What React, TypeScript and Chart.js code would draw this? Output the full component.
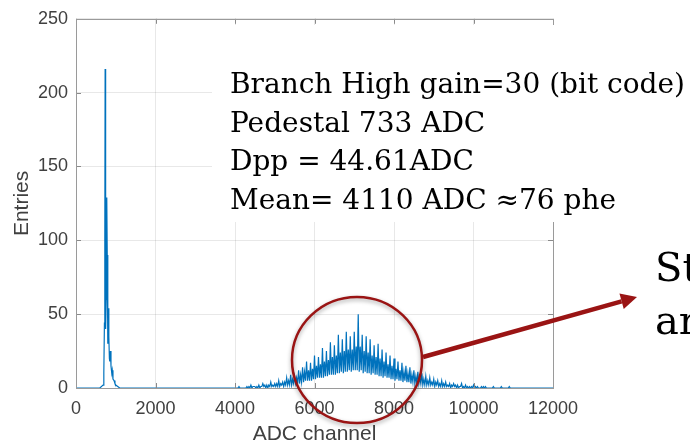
import React, { useEffect, useRef } from "react";
import { Chart, registerables } from "chart.js";

Chart.register(...registerables);

// Pedestal region (ADC channel, entries)
const pedestalX = [0, 600, 680, 700, 715, 725, 733, 741, 750, 760, 770, 778, 786, 795, 805, 815, 822, 830, 840, 850, 867, 880, 900, 912, 930, 957, 980, 1000, 1050, 1100, 3950];
const pedestalY = [0, 0, 2, 10, 44, 100, 216, 120, 40, 60, 100, 129, 90, 35, 30, 45, 54, 35, 20, 18, 25, 15, 10, 12, 6, 5, 3, 2, 1, 0, 0];

// Signal region, every 100 ADC from 4000: comb teeth (+0), lows (+25), mids (+50), lows (+75)
const signalStart = 4000;
const teethY = [0, 1, 0, 1, 2, 1, 2, 3, 2, 4, 3, 5, 4, 7, 9, 8, 12, 14, 18, 17, 22, 21, 27, 25, 31, 29, 36, 33, 38, 35, 38, 50, 36, 35, 33, 29, 30, 26, 24, 22, 20, 18, 17, 15, 14, 12, 11, 10, 8, 7, 6, 5, 5, 4, 3, 3, 2, 3, 2, 1, 2, 1, 1, 1, 0, 1, 0, 1, 0, 1, 0];
const lowAY = [0, 0, 0, 0, 0, 0, 0, 1, 0, 1, 1, 1, 1, 2, 2, 3, 3, 4, 5, 5, 6, 7, 7, 8, 9, 9, 10, 10, 11, 11, 12, 11, 10, 10, 9, 9, 8, 7, 7, 6, 5, 5, 4, 4, 3, 3, 3, 2, 2, 2, 1, 1, 1, 1, 0, 1, 0, 0, 0, 0, 0, 0, 0, 0, 0, 0, 0, 0, 0, 0];
const midY = [0, 0, 0, 1, 1, 1, 1, 2, 2, 2, 3, 3, 4, 5, 6, 7, 9, 11, 12, 13, 15, 16, 18, 19, 21, 22, 24, 25, 26, 26, 28, 28, 25, 24, 22, 21, 20, 18, 16, 15, 13, 12, 11, 10, 9, 8, 7, 6, 5, 4, 4, 3, 3, 2, 2, 2, 1, 1, 1, 1, 1, 0, 1, 0, 0, 0, 0, 0, 0, 0];
const lowBY = [0, 0, 0, 0, 1, 0, 1, 0, 1, 1, 1, 2, 2, 2, 3, 3, 4, 5, 5, 6, 7, 7, 8, 9, 9, 10, 11, 11, 12, 12, 12, 12, 11, 10, 10, 9, 8, 8, 7, 6, 6, 5, 5, 4, 4, 3, 3, 2, 2, 2, 2, 1, 1, 1, 1, 0, 1, 0, 0, 0, 0, 0, 0, 0, 0, 0, 0, 0, 0, 0];
const tailX = [11100, 12000];
const tailY = [0, 0];

const infoLines = [
  "Branch High gain=30 (bit code)",
  "Pedestal 733 ADC",
  "Dpp = 44.61ADC",
  "Mean= 4110 ADC \u224876 phe",
];
const sideLines = ["St", "ar"];

function buildPoints() {
  const pts: { x: number; y: number }[] = [];
  pedestalX.forEach((x, i) => pts.push({ x, y: pedestalY[i] }));
  teethY.forEach((y, i) => {
    const x = signalStart + i * 100;
    pts.push({ x, y });
    if (i < midY.length) {
      pts.push({ x: x + 25, y: lowAY[i] });
      pts.push({ x: x + 50, y: midY[i] });
      pts.push({ x: x + 75, y: lowBY[i] });
    }
  });
  tailX.forEach((x, i) => pts.push({ x, y: tailY[i] }));
  return pts;
}

const overlay = {
  id: "overlay",
  afterDatasetsDraw(chart: any) {
    const ctx = chart.ctx;
    const { left, right, top, bottom } = chart.chartArea;
    const xs = chart.scales.x;
    const ys = chart.scales.y;
    ctx.save();
    // ticks (inward)
    ctx.strokeStyle = "#8a8a8a";
    ctx.lineWidth = 1;
    ctx.beginPath();
    for (let v = 0; v <= 12000; v += 2000) {
      const px = Math.round(xs.getPixelForValue(v)) + 0.5;
      ctx.moveTo(px, bottom);
      ctx.lineTo(px, bottom - 5);
      ctx.moveTo(px, top);
      ctx.lineTo(px, top + 5);
    }
    for (let v = 0; v <= 250; v += 50) {
      const py = Math.round(ys.getPixelForValue(v)) + 0.5;
      ctx.moveTo(left, py);
      ctx.lineTo(left + 5, py);
      ctx.moveTo(right, py);
      ctx.lineTo(right - 5, py);
    }
    ctx.stroke();
    // box
    ctx.strokeStyle = "#9a9a9a";
    ctx.strokeRect(Math.round(left) + 0.5, Math.round(top) + 0.5, Math.round(right - left), Math.round(bottom - top));

    // axis titles
    ctx.fillStyle = "#404040";
    ctx.font = "21px 'Liberation Sans', Arial, sans-serif";
    ctx.textAlign = "center";
    ctx.textBaseline = "alphabetic";
    ctx.fillText("ADC channel", (left + right) / 2, 440);
    ctx.save();
    ctx.translate(28, (top + bottom) / 2);
    ctx.rotate(-Math.PI / 2);
    ctx.fillText("Entries", 0, 0);
    ctx.restore();

    // white text box
    ctx.fillStyle = "#ffffff";
    ctx.fillRect(212, 25, 690 - 212, 222 - 25);
    ctx.fillStyle = "#000000";
    ctx.textAlign = "left";
    ctx.font = "28px 'DejaVu Serif', serif";
    infoLines.forEach((t, i) => ctx.fillText(t, 230, 93 + i * 38.5));

    // ellipse
    ctx.save();
    ctx.shadowColor = "rgba(0,0,0,0.35)";
    ctx.shadowBlur = 4;
    ctx.shadowOffsetY = 2;
    ctx.strokeStyle = "#9a1414";
    ctx.lineWidth = 2.5;
    ctx.beginPath();
    ctx.ellipse(357, 360, 65, 63, 0, 0, Math.PI * 2);
    ctx.stroke();
    ctx.restore();

    // arrow
    const x1 = 423, y1 = 357, x2 = 637, y2 = 297;
    const ang = Math.atan2(y2 - y1, x2 - x1);
    const hl = 16, hw = 8;
    const bx = x2 - hl * Math.cos(ang), by = y2 - hl * Math.sin(ang);
    ctx.strokeStyle = "#9a1414";
    ctx.fillStyle = "#9a1414";
    ctx.lineWidth = 4.5;
    ctx.beginPath();
    ctx.moveTo(x1, y1);
    ctx.lineTo(bx, by);
    ctx.stroke();
    ctx.beginPath();
    ctx.moveTo(x2, y2);
    ctx.lineTo(bx + hw * Math.sin(ang), by - hw * Math.cos(ang));
    ctx.lineTo(bx - hw * Math.sin(ang), by + hw * Math.cos(ang));
    ctx.closePath();
    ctx.fill();

    // side text
    ctx.fillStyle = "#000000";
    ctx.font = "40px 'DejaVu Serif', serif";
    ctx.fillText(sideLines[0], 655, 281);
    ctx.fillText(sideLines[1], 655, 334);
    ctx.restore();
  },
};

export default function App() {
  const ref = useRef<HTMLCanvasElement>(null);
  useEffect(() => {
    if (!ref.current) return;
    const chart = new Chart(ref.current, {
      type: "line",
      data: {
        datasets: [
          {
            data: buildPoints(),
            borderColor: "#0072BD",
            borderWidth: 1.2,
            pointRadius: 0,
            tension: 0,
            fill: false,
          },
        ],
      },
      options: {
        animation: false,
        responsive: false,
        parsing: false as any,
        layout: { padding: { left: 0, right: 137, top: 18, bottom: 0 } },
        plugins: { legend: { display: false }, tooltip: { enabled: false } },
        scales: {
          x: {
            type: "linear",
            min: 0,
            max: 12000,
            afterFit: (s: any) => { s.height = 54; },
            ticks: { stepSize: 2000, padding: 10, color: "#404040", font: { family: "'Liberation Sans', Arial, sans-serif", size: 18 }, maxRotation: 0, callback: (v: any) => String(v) },
            grid: { color: "rgba(0,0,0,0.09)", drawTicks: false },
            border: { display: false },
          },
          y: {
            min: 0,
            max: 250,
            afterFit: (s: any) => { s.width = 76; },
            ticks: { stepSize: 50, padding: 8, color: "#404040", font: { family: "'Liberation Sans', Arial, sans-serif", size: 18 } },
            grid: { color: "rgba(0,0,0,0.09)", drawTicks: false },
            border: { display: false },
          },
        },
      },
      plugins: [overlay],
    });
    return () => chart.destroy();
  }, []);
  return (
    <div style={{ position: "fixed", left: 0, top: 0, width: 690, height: 442, background: "#fff" }}>
      <canvas ref={ref} width={690} height={442} style={{ width: 690, height: 442 }} />
    </div>
  );
}
